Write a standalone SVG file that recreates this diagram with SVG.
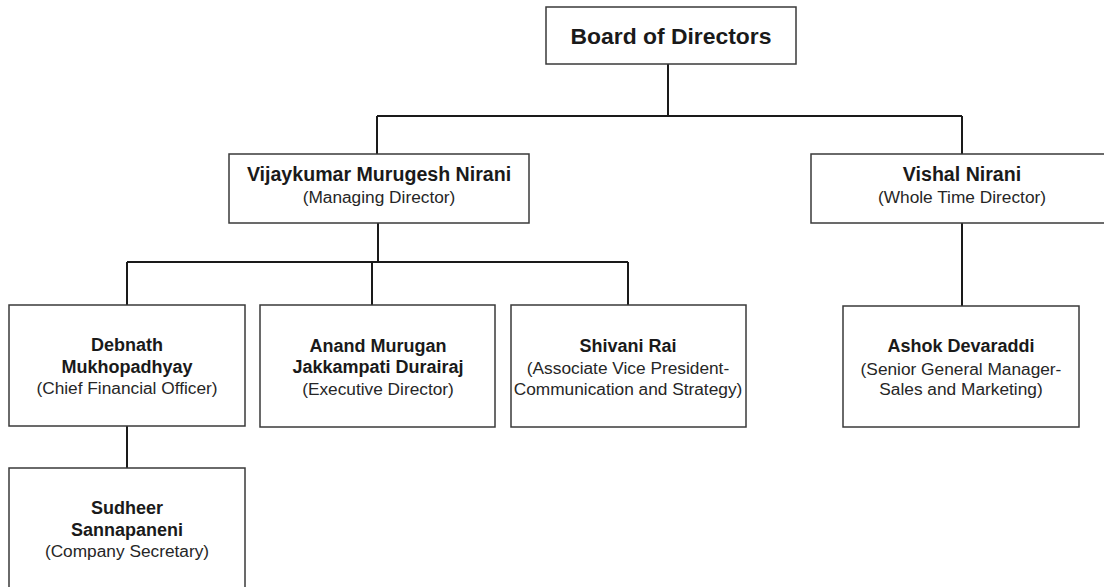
<svg xmlns="http://www.w3.org/2000/svg" width="1104" height="587" viewBox="0 0 1104 587">
<style>
.box{fill:#fff;stroke:#3a3a3a;stroke-width:1.5}
.ln{fill:none;stroke:#1a1a1a;stroke-width:2}
text{font-family:"Liberation Sans",Arial,sans-serif;fill:#1a1a1a;text-anchor:middle}
.b1{font-weight:bold;font-size:22.9px}
.b2{font-weight:bold;font-size:19.6px}
.b3{font-weight:bold;font-size:18px}
.r{font-size:17.3px;fill:#262626}
</style>
<rect width="1104" height="587" fill="#fff"/>
<g id="connectors">
<path class="ln" d="M668 64V116M377 116H962M377 116V154M962 116V154"/>
<path class="ln" d="M378 223V262M127 262H628M127 262V305M372 262V305M628 262V305"/>
<path class="ln" d="M962 223V306"/>
<path class="ln" d="M127 426V468"/>
</g>
<g id="board">
<rect class="box" x="546" y="7" width="250" height="57"/>
<text class="b1" x="671" y="44">Board of Directors</text>
</g>
<g id="vmn">
<rect class="box" x="229" y="154" width="300" height="69"/>
<text class="b2" x="379" y="181">Vijaykumar Murugesh Nirani</text>
<text class="r" x="379" y="203">(Managing Director)</text>
</g>
<g id="vishal">
<rect class="box" x="811" y="154" width="302" height="69"/>
<text class="b2" x="962" y="181">Vishal Nirani</text>
<text class="r" x="962" y="203">(Whole Time Director)</text>
</g>
<g id="debnath">
<rect class="box" x="9" y="305" width="236" height="121"/>
<text class="b3" x="127" y="351">Debnath</text>
<text class="b3" x="127" y="373">Mukhopadhyay</text>
<text class="r" x="127" y="394">(Chief Financial Officer)</text>
</g>
<g id="anand">
<rect class="box" x="260" y="305" width="235" height="122"/>
<text class="b3" x="378" y="351.5">Anand Murugan</text>
<text class="b3" x="378" y="373">Jakkampati Durairaj</text>
<text class="r" x="378" y="395">(Executive Director)</text>
</g>
<g id="shivani">
<rect class="box" x="511" y="305" width="235" height="122"/>
<text class="b3" x="628" y="351.5">Shivani Rai</text>
<text class="r" x="628" y="374">(Associate Vice President-</text>
<text class="r" x="628" y="394.5">Communication and Strategy)</text>
</g>
<g id="ashok">
<rect class="box" x="843" y="306" width="236" height="121"/>
<text class="b3" x="961" y="351.5">Ashok Devaraddi</text>
<text class="r" x="961" y="374.5">(Senior General Manager-</text>
<text class="r" x="961" y="395">Sales and Marketing)</text>
</g>
<g id="sudheer">
<rect class="box" x="9" y="468" width="236" height="125"/>
<text class="b3" x="127" y="514">Sudheer</text>
<text class="b3" x="127" y="536">Sannapaneni</text>
<text class="r" x="127" y="557">(Company Secretary)</text>
</g>
</svg>
